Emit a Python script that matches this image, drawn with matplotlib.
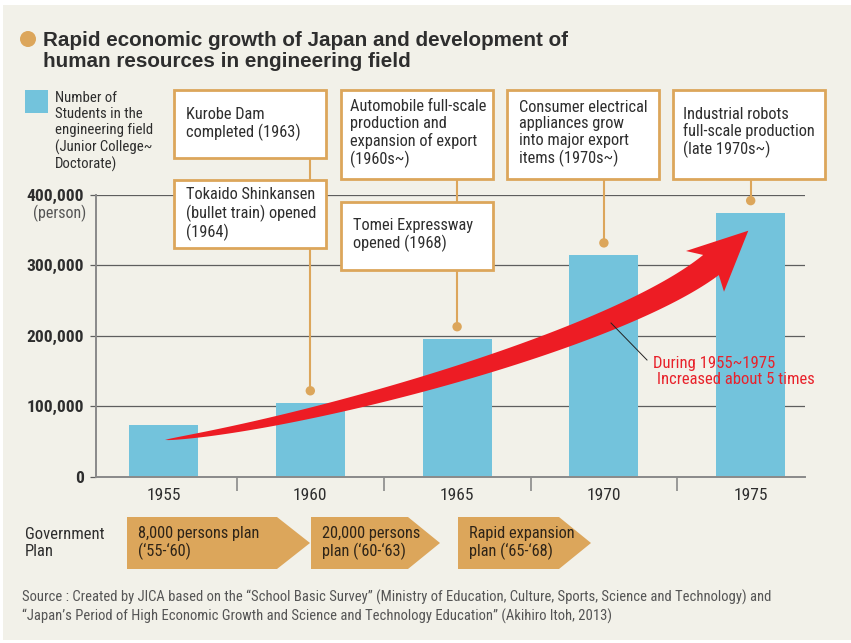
import numpy as np
import matplotlib
matplotlib.use('Agg')
import matplotlib.pyplot as plt
from matplotlib.patches import Rectangle, Polygon, Circle
from matplotlib.lines import Line2D
from matplotlib.transforms import Affine2D

# data
years = ['1955', '1960', '1965', '1970', '1975']
students = [73000, 105000, 196000, 315000, 375000]
y_ticks = [0, 100000, 200000, 300000, 400000]
y_tick_labels = ['0', '100,000', '200,000', '300,000', '400,000']

legend_label = 'Number of\nStudents in the\nengineering field\n(Junior College~\nDoctorate)'
events = [
    'Kurobe Dam\ncompleted (1963)',
    'Tokaido Shinkansen\n(bullet train) opened\n(1964)',
    'Automobile full-scale\nproduction and\nexpansion of export\n(1960s~)',
    'Tomei Expressway\nopened (1968)',
    'Consumer electrical\nappliances grow\ninto major export\nitems (1970s~)',
    'Industrial robots\nfull-scale production\n(late 1970s~)',
]
plans = ['8,000 persons plan\n(‘55-‘60)', '20,000 persons\nplan (‘60-‘63)', 'Rapid expansion\nplan (‘65-‘68)']

BG = '#f2f1e9'
BLUE = '#73c3dc'
ORANGE = '#dca65b'
RED = '#ed1c24'
DARK = '#2e2e2e'
COND = ['Liberation Sans Narrow', 'Roboto Condensed', 'Liberation Sans', 'DejaVu Sans']

W, H = 851, 643
fig = plt.figure(figsize=(W / 100, H / 100), dpi=100, facecolor='white')
# pixel coordinates, origin top-left
px = Affine2D().scale(1 / W, -1 / H).translate(0, 1) + fig.transFigure

fig.patches.append(Rectangle((3, 5), 848, 635, transform=px, facecolor=BG,
                             edgecolor='none', zorder=-10))

ax = fig.add_axes([96 / W, 1 - 476.7 / H, (805 - 96) / W, (476.7 - 195) / H])
ax.patch.set_visible(False)
x = np.arange(len(years))
ax.bar(x, students, width=0.47, color=BLUE, zorder=2)
ax.set_xlim(-0.46, 4.37)
ax.set_ylim(0, 400000)

ax.set_yticks(y_ticks, y_tick_labels)
ax.yaxis.grid(True, color='#5e5e5e', lw=0.9)
ax.set_axisbelow(True)
for s in ['top', 'right']:
    ax.spines[s].set_visible(False)
for s in ['left', 'bottom']:
    ax.spines[s].set_color('#8a8a8a')
    ax.spines[s].set_linewidth(1.4)
ax.tick_params(axis='y', length=4.5, width=0.9, color='#5e5e5e', pad=4,
               labelsize=12.5, labelcolor=DARK)
for lab in ax.get_yticklabels():
    lab.set_family(COND)
    lab.set_weight('bold')

ax.set_xticks(x, years)
ax.set_xticks(x[:-1] + 0.5, minor=True)
ax.tick_params(axis='x', which='major', length=0, pad=8, labelsize=12.5, labelcolor=DARK)
ax.tick_params(axis='x', which='minor', length=10, width=1.2, color='#8a8a8a', direction='out')
for lab in ax.get_xticklabels():
    lab.set_family(COND)

fig.text(86, 213, '(person)', transform=px, ha='right', va='center', fontsize=11.5,
         color='#555555', family=COND)

# title
fig.patches.append(Circle((28, 39), 8, transform=px, facecolor=ORANGE, edgecolor='none'))
fig.text(43, 51, 'Rapid economic growth of Japan and development of\nhuman resources in engineering field',
         transform=px, ha='left', va='center', fontsize=14.9, fontweight='bold', color=DARK,
         family=['Liberation Sans', 'DejaVu Sans'], linespacing=1.12)

# legend
fig.patches.append(Rectangle((25, 90), 23, 23, transform=px, facecolor=BLUE, edgecolor='none'))
fig.text(55, 131.5, legend_label, transform=px, ha='left', va='center', fontsize=10.6,
         color=DARK, family=COND, linespacing=1.2)

# event boxes: (left, top, right, bottom), text x, text center y
boxes = [
    (174, 90, 326, 158, 186, 124),
    (174, 180, 326, 248, 186, 214),
    (341, 90, 493, 179, 350, 133.5),
    (341, 202, 493, 270, 353, 235),
    (507, 90, 659, 179, 519, 133.5),
    (673, 90, 825, 179, 683, 132.5),
]
for (l, t, r, b, tx, ty), label in zip(boxes, events):
    fig.patches.append(Rectangle((l, t), r - l, b - t, transform=px, facecolor='white',
                                 edgecolor=ORANGE, lw=2, zorder=3))
    fig.text(tx, ty, label, transform=px, ha='left', va='center', fontsize=11.8,
             color=DARK, family=COND, linespacing=1.14, zorder=4)


def to_px(xv, yv):
    dx, dy = ax.transData.transform((xv, yv))
    return dx, H - dy


# connectors: bar index, top of line, lower box top (or dot)
connectors = [(1, 158, 180, False), (1, 248, None, True), (2, 179, 202, False),
              (2, 270, None, True), (3, 179, None, True), (4, 179, None, True)]
for i, y0, y1, dot in connectors:
    cx, cy = to_px(i, students[i] + 17000)
    end = cy if dot else y1
    fig.add_artist(Line2D([cx, cx], [y0, end], transform=px, color=ORANGE, lw=1.5, zorder=2))
    if dot:
        fig.patches.append(Circle((cx, cy), 4.7, transform=px, facecolor=ORANGE,
                                  edgecolor='none', zorder=3))

# red growth arrow (tapering curve)
P = np.array([(165, 440), (315, 422), (616, 339), (711, 265)], float)
t = np.linspace(0, 1, 120)[:, None]
curve = ((1 - t) ** 3 * P[0] + 3 * (1 - t) ** 2 * t * P[1]
         + 3 * (1 - t) * t ** 2 * P[2] + t ** 3 * P[3])
deriv = (3 * (1 - t) ** 2 * (P[1] - P[0]) + 6 * (1 - t) * t * (P[2] - P[1])
         + 3 * t ** 2 * (P[3] - P[2]))
tang = deriv / np.linalg.norm(deriv, axis=1, keepdims=True)
norm = np.column_stack([tang[:, 1], -tang[:, 0]])
half = 12.75 * t[:, 0] ** 0.65
upper = curve - norm * half[:, None]
lower = curve + norm * half[:, None]
if upper[-1, 1] > lower[-1, 1]:
    upper, lower = lower, upper
head = np.array([(686, 251), (748.3, 230.7), (724, 291.7)])
arrow_pts = np.vstack([upper, head, lower[::-1]])
fig.patches.append(Polygon(arrow_pts, closed=True, transform=px, facecolor=RED,
                           edgecolor='none', zorder=2.5))

fig.add_artist(Line2D([611, 647], [323, 360], transform=px, color='#222222', lw=0.7, zorder=3))
fig.text(653, 371.5, 'During 1955~1975\n Increased about 5 times', transform=px, ha='left',
         va='center', fontsize=12, color='#e8222b', family=COND, linespacing=1.04, zorder=4)

# government plan chevrons
fig.text(25, 543, 'Government\nPlan', transform=px, ha='left', va='center', fontsize=12,
         color=DARK, family=COND, linespacing=1.1)
chevrons = [(127, 277, 310), (311, 408, 440), (458, 559, 591)]
for (l, br, tip), label in zip(chevrons, plans):
    pts = [(l, 517), (br, 517), (tip, 543), (br, 569), (l, 569)]
    fig.patches.append(Polygon(pts, closed=True, transform=px, facecolor=ORANGE, edgecolor='none'))
    fig.text(l + 11, 543, label, transform=px, ha='left', va='center', fontsize=11.8,
             color='#2e2418', family=COND, linespacing=1.1)

fig.text(22, 606.5, 'Source : Created by JICA based on the “School Basic Survey” (Ministry of Education, '
         'Culture, Sports, Science and Technology) and\n“Japan’s Period of High Economic Growth and '
         'Science and Technology Education” (Akihiro Itoh, 2013)',
         transform=px, ha='left', va='center', fontsize=10.5, color='#555555', family=COND,
         linespacing=1.3)

fig.savefig('out.png', dpi=100, facecolor=fig.get_facecolor())
